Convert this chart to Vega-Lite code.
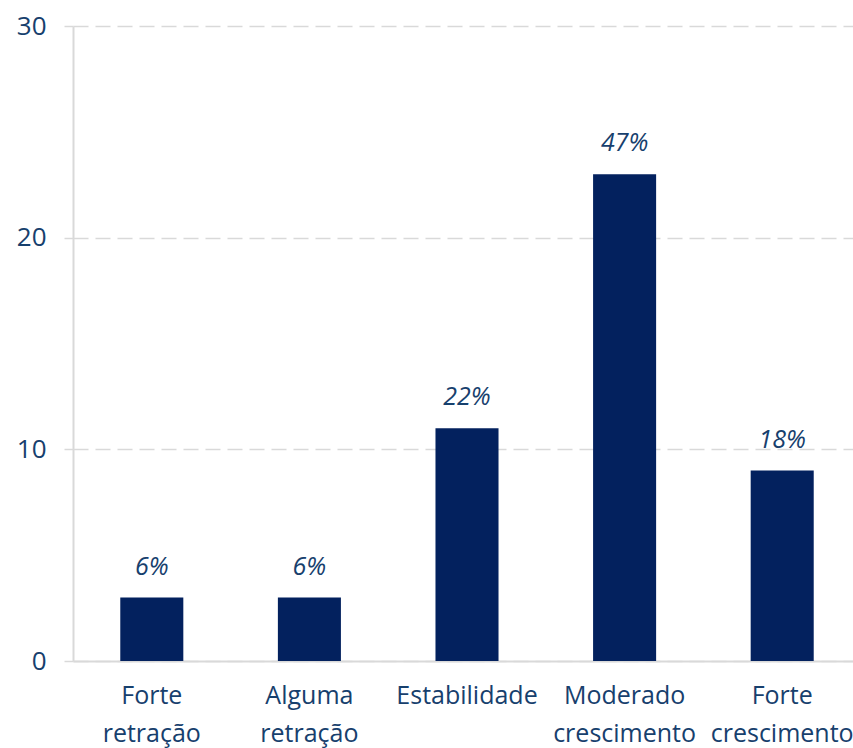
{
  "$schema": "https://vega.github.io/schema/vega-lite/v6.json",
  "autosize": "none",
  "width": 788,
  "height": 635,
  "padding": {"left": 73, "top": 26, "right": 0, "bottom": 87},
  "background": "white",
  "config": {"view": {"stroke": null}, "font": "Open Sans"},
  "data": {"values": [
    {"categoria": "Forte retração", "respostas": 3, "pct": "6%"},
    {"categoria": "Alguma retração", "respostas": 3, "pct": "6%"},
    {"categoria": "Estabilidade", "respostas": 11, "pct": "22%"},
    {"categoria": "Moderado crescimento", "respostas": 23, "pct": "47%"},
    {"categoria": "Forte crescimento", "respostas": 9, "pct": "18%"}
  ]},
  "encoding": {
    "x": {"field": "categoria", "type": "nominal", "sort": null,
      "scale": {"paddingInner": 0.6, "paddingOuter": 0.3},
      "axis": {"title": null, "labelAngle": 0, "ticks": false, "domainColor": "#d9d9d9", "domainWidth": 2,
        "labelExpr": "datum.label == 'Estabilidade' ? datum.label : split(datum.label, ' ')",
        "labelFont": "Open Sans", "labelFontSize": 25, "labelColor": "#17406d", "labelPadding": 22,
        "labelLineHeight": 38, "labelBaseline": "top", "labelOverlap": false, "labelBound": false, "labelFlush": false}},
    "y": {"field": "respostas", "type": "quantitative",
      "scale": {"domain": [0, 30], "nice": false},
      "axis": {"title": null, "values": [0, 10, 20, 30], "grid": true, "gridColor": "#d9d9d9", "gridDash": [15, 7], "gridWidth": 1.5,
        "domainColor": "#d9d9d9", "domainWidth": 2, "tickColor": "#d9d9d9", "tickSize": 9, "tickWidth": 1.5,
        "labelFont": "Open Sans", "labelFontSize": 26, "labelColor": "#17406d", "labelPadding": 18}}
  },
  "layer": [
    {"mark": {"type": "bar", "color": "#03215e"}},
    {"mark": {"type": "text", "font": "Open Sans", "fontSize": 25, "fontStyle": "italic", "color": "#17406d", "baseline": "alphabetic", "dy": -23},
     "encoding": {"text": {"field": "pct"}}}
  ]
}
